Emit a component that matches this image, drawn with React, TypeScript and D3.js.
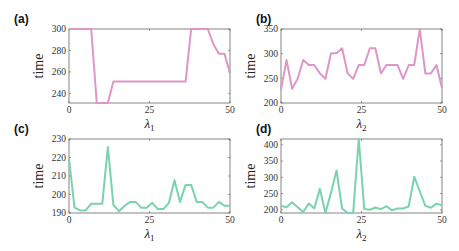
import React, { useEffect, useRef } from 'react';
import * as d3 from 'd3';

// lambda grid (30 samples over 0..50)
const lambdaVals = [0, 1.72, 3.45, 5.17, 6.9, 8.62, 10.34, 12.07, 13.79, 15.52, 17.24, 18.97, 20.69, 22.41, 24.14,
  25.86, 27.59, 29.31, 31.03, 32.76, 34.48, 36.21, 37.93, 39.66, 41.38, 43.1, 44.83, 46.55, 48.28, 50];

const timeA = [300, 300, 300, 300, 300, 231, 231, 231, 251, 251, 251, 251, 251, 251, 251,
  251, 251, 251, 251, 251, 251, 251, 300, 300, 300, 300, 286, 277, 277, 259];
const timeB = [227, 287, 229, 249, 287, 277, 277, 260, 249, 301, 301, 311, 260, 249, 277,
  277, 311, 311, 260, 277, 277, 277, 249, 277, 277, 350, 260, 260, 277, 230];
const timeC = [219.3, 192.9, 191.4, 191.4, 195, 195, 195, 225.7, 194.3, 191, 193.8, 196, 196, 192.9, 192.9,
  195.5, 192.1, 192.1, 195.5, 207.7, 196, 205.2, 205.2, 196, 196, 192.9, 192.9, 196, 193.9, 193.9];
const timeD = [212, 208, 223, 208, 193, 219, 204, 265, 190, 252, 321, 204, 190, 190, 418,
  202, 200, 207, 202, 211, 198, 204, 204, 210, 302, 257, 212, 206, 219, 214];

const xTicks = [0, 25, 50];
const yTicksA = [240, 260, 280, 300];
const yTicksB = [200, 250, 300, 350];
const yTicksC = [190, 200, 210, 220, 230];
const yTicksD = [200, 250, 300, 350, 400];

const pink = '#dc97c8';
const green = '#79d3ad';

const panels = [
  { id: 'a', label: '(a)', x0: 69, y0: 29, ys: timeA, dom: [231, 300], ticks: yTicksA, sub: '1', color: pink },
  { id: 'b', label: '(b)', x0: 281, y0: 29, ys: timeB, dom: [200, 350], ticks: yTicksB, sub: '2', color: pink },
  { id: 'c', label: '(c)', x0: 69, y0: 139, ys: timeC, dom: [190, 230], ticks: yTicksC, sub: '1', color: green },
  { id: 'd', label: '(d)', x0: 281, y0: 139, ys: timeD, dom: [190, 418], ticks: yTicksD, sub: '2', color: green },
];

export default function App() {
  const ref = useRef<SVGSVGElement>(null);
  const width = 459;
  const height = 251;
  const pw = 161;
  const ph = 74;

  useEffect(() => {
    const svg = d3.select(ref.current);
    svg.selectAll('*').remove();
    const defs = svg.append('defs');

    panels.forEach(p => {
      const xScale = d3.scaleLinear().domain([0, 50]).range([0, pw]);
      const yScale = d3.scaleLinear().domain(p.dom).range([ph, 0]);
      const g = svg.append('g').attr('transform', `translate(${p.x0},${p.y0})`);

      defs.append('clipPath').attr('id', 'clip-' + p.id)
        .append('rect').attr('x', -1).attr('y', -1).attr('width', pw + 2).attr('height', ph + 2);

      // ticks (inside, mirrored on opposite sides)
      xTicks.forEach(t => {
        const x = xScale(t);
        g.append('line').attr('x1', x).attr('x2', x).attr('y1', ph).attr('y2', ph - 2).attr('stroke', '#555').attr('stroke-width', 0.6);
        g.append('line').attr('x1', x).attr('x2', x).attr('y1', 0).attr('y2', 2).attr('stroke', '#555').attr('stroke-width', 0.6);
        g.append('text').attr('x', x).attr('y', ph + 9.5).attr('text-anchor', 'middle')
          .attr('font-family', '"Liberation Serif", serif').attr('font-size', 9.5).attr('fill', '#333').text(t);
      });
      p.ticks.forEach(t => {
        const y = yScale(t);
        g.append('line').attr('x1', 0).attr('x2', 2).attr('y1', y).attr('y2', y).attr('stroke', '#555').attr('stroke-width', 0.6);
        g.append('line').attr('x1', pw).attr('x2', pw - 2).attr('y1', y).attr('y2', y).attr('stroke', '#555').attr('stroke-width', 0.6);
        g.append('text').attr('x', -3).attr('y', y).attr('dy', '0.35em').attr('text-anchor', 'end')
          .attr('font-family', '"Liberation Serif", serif').attr('font-size', 9.5).attr('fill', '#333').text(t);
      });

      // box
      g.append('rect').attr('width', pw).attr('height', ph).attr('fill', 'none')
        .attr('stroke', '#666').attr('stroke-width', 0.8);

      // line
      const line = d3.line<number>().x((_, i) => xScale(lambdaVals[i])).y(d => yScale(d));
      g.append('path').datum(p.ys).attr('d', line).attr('fill', 'none')
        .attr('stroke', p.color).attr('stroke-width', 2).attr('stroke-linejoin', 'round')
        .attr('clip-path', `url(#clip-${p.id})`);

      // y label
      g.append('text').attr('transform', `translate(-26,${ph / 2}) rotate(-90)`).attr('text-anchor', 'middle')
        .attr('font-family', '"Liberation Serif", serif').attr('font-size', 14).attr('fill', '#222').text('time');

      // x label
      const xl = g.append('text').attr('x', pw / 2).attr('y', ph + 25).attr('text-anchor', 'middle')
        .attr('font-family', '"Liberation Serif", serif').attr('font-size', 13).attr('fill', '#222');
      xl.append('tspan').attr('font-style', 'italic').text('λ');
      xl.append('tspan').attr('font-size', 9).attr('dy', 3).text(p.sub);

      // panel label
      svg.append('text').attr('x', p.x0 - 55 + (p.id === 'b' || p.id === 'd' ? 30 : 0)).attr('y', p.y0 - 6)
        .attr('font-family', '"Liberation Sans", Arial, sans-serif').attr('font-weight', 'bold')
        .attr('font-size', 12).attr('fill', '#111').text(p.label);
    });
  }, []);

  return (
    <svg ref={ref} width={width} height={height} viewBox={`0 0 ${width} ${height}`}
      style={{ position: 'absolute', left: 0, top: 0, background: '#fff' }} />
  );
}
